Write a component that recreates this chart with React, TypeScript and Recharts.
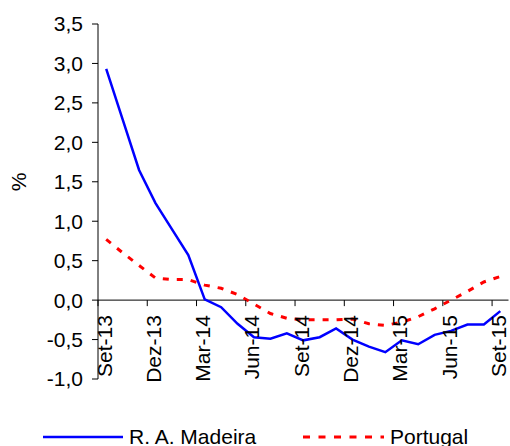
import React from 'react';
import { LineChart, Line, XAxis, YAxis, ReferenceLine, Legend } from 'recharts';

const months = [
  'Set-13', 'Out-13', 'Nov-13', 'Dez-13', 'Jan-14', 'Fev-14', 'Mar-14', 'Abr-14', 'Mai-14',
  'Jun-14', 'Jul-14', 'Ago-14', 'Set-14', 'Out-14', 'Nov-14', 'Dez-14', 'Jan-15', 'Fev-15',
  'Mar-15', 'Abr-15', 'Mai-15', 'Jun-15', 'Jul-15', 'Ago-15', 'Set-15',
];

const madeira = [
  2.93, 2.29, 1.65, 1.23, 0.9, 0.57, 0.01, -0.09, -0.3, -0.47, -0.49, -0.42, -0.51,
  -0.47, -0.36, -0.5, -0.59, -0.66, -0.51, -0.56, -0.44, -0.39, -0.31, -0.31, -0.14,
];

const portugal = [
  0.77, 0.6, 0.44, 0.28, 0.26, 0.26, 0.19, 0.15, 0.07, -0.05, -0.17, -0.23, -0.25,
  -0.25, -0.25, -0.24, -0.3, -0.32, -0.28, -0.21, -0.11, 0.0, 0.11, 0.23, 0.3,
];

const yTicks = [-1, -0.5, 0, 0.5, 1, 1.5, 2, 2.5, 3, 3.5];
const seriesNames = ['R. A. Madeira', 'Portugal'];

const data = months.map((m, i) => ({ m, madeira: madeira[i], portugal: portugal[i] }));

const W = 510;
const H = 446;
const MARGIN = { top: 24, right: 1.5, left: 0, bottom: 37 };
const Y_AXIS_W = 98;
const X_AXIS_H = 30;
const Y_MIN = -1;
const Y_MAX = 3.5;
const FONT = 'Liberation Sans, Arial, sans-serif';
const FS = 21;

const plotTop = MARGIN.top;
const plotBottom = H - MARGIN.bottom - X_AXIS_H;
const zeroY = plotTop + ((Y_MAX - 0) / (Y_MAX - Y_MIN)) * (plotBottom - plotTop);
const band = (W - MARGIN.left - Y_AXIS_W - MARGIN.right) / months.length;

const fmt = (v: number) => v.toFixed(1).replace('.', ',');

const XTick = (props: any) => {
  const { x, payload } = props;
  const tx = x + 5.5;
  const ty = zeroY + 15;
  return (
    <g>
      <line x1={x - band / 2} x2={x - band / 2} y1={zeroY} y2={zeroY + 6} stroke="#000" strokeWidth={1} />
      <text
        x={tx}
        y={ty}
        transform={`rotate(-90 ${tx} ${ty})`}
        textAnchor="end"
        fontSize={FS}
        fontFamily={FONT}
        fill="#000"
      >
        {payload.value}
      </text>
    </g>
  );
};

const LegendContent = () => (
  <svg width={W} height={22} style={{ display: 'block' }}>
    <line x1={43} x2={123} y1={13} y2={13} stroke="#0000FF" strokeWidth={2.5} />
    <text x={129} y={20} fontSize={FS} fontFamily={FONT} fill="#000">{seriesNames[0]}</text>
    <line x1={303} x2={384} y1={13} y2={13} stroke="#FF0000" strokeWidth={3} strokeDasharray="7 8.5" />
    <text x={390} y={20} fontSize={FS} fontFamily={FONT} fill="#000">{seriesNames[1]}</text>
  </svg>
);

const YLabel = () => (
  <text x={18} y={182} transform="rotate(-90 18 182)" textAnchor="middle" dominantBaseline="central"
    fontSize={FS} fontFamily={FONT} fill="#000">%</text>
);

export default function App() {
  return (
    <div style={{ position: 'absolute', left: 0, top: 0, width: W, height: H, background: '#fff' }}>
      <LineChart width={W} height={H} data={data} margin={MARGIN} style={{ fontFamily: FONT }}>
        <XAxis
          dataKey="m"
          scale="band"
          interval={2}
          axisLine={false}
          tickLine={false}
          height={X_AXIS_H}
          tick={<XTick />}
        />
        <YAxis
          width={Y_AXIS_W}
          domain={[Y_MIN, Y_MAX]}
          ticks={yTicks}
          tickFormatter={fmt}
          tickSize={6}
          tickMargin={9}
          axisLine={{ stroke: '#000' }}
          tickLine={{ stroke: '#000' }}
          tick={{ fontSize: FS, fill: '#000', fontFamily: FONT }}
          interval={0}
          label={{ content: <YLabel /> }}
        />
        <ReferenceLine y={0} stroke="#000" strokeWidth={1} />
        <Line
          dataKey="madeira"
          name={seriesNames[0]}
          stroke="#0000FF"
          strokeWidth={2.5}
          dot={false}
          isAnimationActive={false}
        />
        <Line
          dataKey="portugal"
          name={seriesNames[1]}
          stroke="#FF0000"
          strokeWidth={3}
          strokeDasharray="6 8"
          dot={false}
          isAnimationActive={false}
        />
        <Legend
          layout="horizontal"
          verticalAlign="middle"
          align="center"
          wrapperStyle={{ top: 424, left: 0, width: W, height: 22 }}
          content={<LegendContent />}
        />
      </LineChart>
    </div>
  );
}
